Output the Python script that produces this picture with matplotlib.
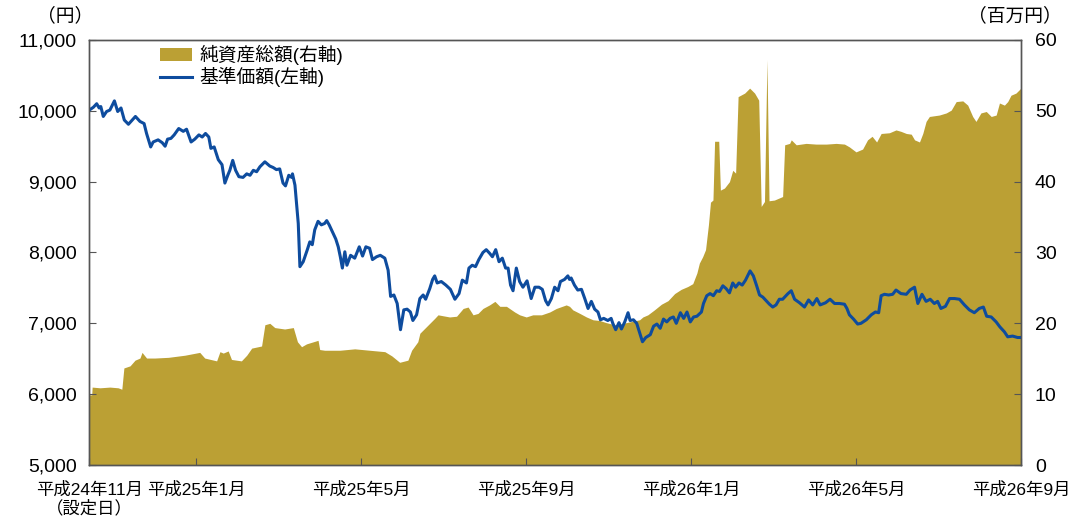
import matplotlib
matplotlib.use("Agg")
import matplotlib.pyplot as plt
from matplotlib.patches import Patch
from matplotlib.lines import Line2D

plt.rcParams['font.family'] = ['Liberation Sans', 'Noto Sans CJK JP', 'DejaVu Sans']

# 横軸: 設定日からの月数
tick_pos = [0, 2.6, 6.6, 10.6, 14.6, 18.6, 22.6]
tick_labels = ["平成24年11月\n（設定日）", "平成25年1月", "平成25年5月", "平成25年9月",
               "平成26年1月", "平成26年5月", "平成26年9月"]

# 基準価額（左軸, 円）
nav_t = [0.00, 0.10, 0.18, 0.24, 0.28, 0.34, 0.42, 0.50, 0.61, 0.69, 0.77, 0.85, 0.95, 1.12, 1.23,
         1.33, 1.39, 1.49, 1.55, 1.67, 1.77, 1.84, 1.90, 1.98, 2.06, 2.17, 2.28, 2.36, 2.47, 2.56,
         2.66, 2.74, 2.82, 2.90, 2.95, 3.03, 3.13, 3.22, 3.29, 3.36, 3.41, 3.48, 3.55, 3.63, 3.73,
         3.82, 3.90, 3.98, 4.06, 4.14, 4.26, 4.38, 4.46, 4.54, 4.62, 4.70, 4.76, 4.84, 4.91, 4.93,
         4.99, 5.07, 5.11, 5.19, 5.29, 5.35, 5.41, 5.47, 5.55, 5.63, 5.71, 5.76, 5.82, 5.90, 5.98,
         6.04, 6.09, 6.14, 6.20, 6.25, 6.34, 6.44, 6.55, 6.63, 6.71, 6.80, 6.87, 6.97, 7.06, 7.17,
         7.25, 7.31, 7.39, 7.47, 7.55, 7.63, 7.71, 7.79, 7.85, 7.94, 8.02, 8.10, 8.16, 8.26, 8.33,
         8.38, 8.44, 8.54, 8.65, 8.76, 8.87, 8.97, 9.05, 9.15, 9.21, 9.29, 9.37, 9.45, 9.55, 9.63,
         9.71, 9.78, 9.86, 9.94, 10.02, 10.10, 10.16, 10.22, 10.28, 10.36, 10.44, 10.52, 10.62, 10.72,
         10.81, 10.91, 10.99, 11.07, 11.13, 11.21, 11.29, 11.37, 11.43, 11.53, 11.61, 11.65, 11.69,
         11.77, 11.85, 11.94, 12.02, 12.10, 12.18, 12.26, 12.34, 12.40, 12.48, 12.58, 12.66, 12.70,
         12.77, 12.85, 12.91, 12.99, 13.07, 13.12, 13.20, 13.28, 13.35, 13.42, 13.50, 13.61, 13.69,
         13.77, 13.85, 13.93, 14.01, 14.09, 14.17, 14.24, 14.34, 14.42, 14.50, 14.58, 14.66, 14.74,
         14.85, 14.90, 14.98, 15.06, 15.14, 15.22, 15.29, 15.37, 15.45, 15.53, 15.61, 15.68, 15.76,
         15.84, 15.92, 16.03, 16.11, 16.19, 16.26, 16.34, 16.42, 16.50, 16.58, 16.66, 16.74, 16.82,
         16.95, 17.03, 17.11, 17.23, 17.35, 17.45, 17.55, 17.65, 17.73, 17.86, 17.97, 18.08, 18.20,
         18.32, 18.38, 18.44, 18.54, 18.64, 18.72, 18.85, 18.97, 19.07, 19.15, 19.21, 19.29, 19.39,
         19.49, 19.57, 19.69, 19.82, 19.91, 20.02, 20.10, 20.20, 20.30, 20.40, 20.50, 20.58, 20.66,
         20.77, 20.87, 20.99, 21.11, 21.23, 21.35, 21.47, 21.59, 21.69, 21.77, 21.88, 22.00, 22.09,
         22.20, 22.28, 22.40, 22.52, 22.60]
nav = [10010, 10050, 10100, 10040, 10060, 9920, 9990, 10010, 10140, 9990, 10040, 9870, 9810, 9920, 9850,
       9820, 9680, 9490, 9560, 9590, 9550, 9500, 9600, 9610, 9660, 9750, 9710, 9740, 9560, 9600,
       9660, 9630, 9680, 9630, 9470, 9490, 9310, 9240, 8980, 9090, 9160, 9300, 9160, 9070, 9060,
       9110, 9090, 9160, 9140, 9210, 9280, 9220, 9200, 9170, 9180, 8980, 8940, 9090, 9060, 9110,
       8950, 8410, 7800, 7870, 8040, 8150, 8110, 8320, 8440, 8390, 8410, 8450, 8390, 8290, 8190,
       8080, 7940, 7780, 8010, 7820, 7960, 7920, 8080, 7950, 8080, 8060, 7900, 7940, 7960, 7920,
       7750, 7380, 7400, 7280, 6910, 7190, 7200, 7160, 7040, 7120, 7350, 7400, 7340, 7490, 7620,
       7670, 7570, 7590, 7540, 7480, 7340, 7420, 7610, 7570, 7780, 7820, 7800, 7900, 8000, 8040,
       7990, 7940, 8040, 7870, 7920, 7780, 7780, 7540, 7460, 7780, 7590, 7510, 7600, 7350,
       7510, 7510, 7480, 7320, 7260, 7350, 7510, 7460, 7590, 7620, 7670, 7620, 7640,
       7540, 7470, 7480, 7350, 7210, 7310, 7200, 7160, 7050, 7070, 7040, 7070, 7000,
       6910, 7010, 6920, 7020, 7150, 7040, 7050, 7000, 6870, 6740, 6800, 6840, 6960,
       6990, 6930, 7060, 7020, 7070, 7090, 7000, 7150, 7070, 7160, 7020, 7090, 7100,
       7160, 7280, 7390, 7420, 7390, 7460, 7450, 7530, 7490, 7430, 7570, 7510, 7570,
       7540, 7610, 7740, 7670, 7530, 7400, 7370, 7320, 7270, 7230, 7260, 7340, 7340,
       7420, 7460, 7340, 7290, 7230, 7330, 7260, 7350, 7260, 7290, 7340, 7280, 7280,
       7270, 7210, 7120, 7060, 6990, 7000, 7050, 7120, 7160, 7150, 7390, 7410, 7400,
       7410, 7470, 7420, 7410, 7470, 7510, 7280, 7410, 7310, 7340, 7280, 7310, 7210,
       7240, 7350, 7350, 7340, 7260, 7190, 7150, 7210, 7230, 7100, 7090, 7020, 6950,
       6880, 6810, 6820, 6800, 6800]

# 純資産総額（右軸, 百万円）
aum_t = [0.00, 0.06, 0.07, 0.26, 0.50, 0.70, 0.79, 0.84, 0.99, 1.11, 1.23, 1.28, 1.39, 1.59, 1.92,
         2.32, 2.68, 2.80, 3.09, 3.17, 3.25, 3.37, 3.45, 3.69, 3.82, 3.94, 4.18, 4.26, 4.38, 4.50,
         4.74, 4.95, 5.05, 5.15, 5.27, 5.55, 5.59, 5.71, 6.08, 6.44, 6.80, 7.17, 7.34, 7.53, 7.73,
         7.82, 7.97, 8.02, 8.14, 8.38, 8.46, 8.74, 8.91, 9.07, 9.19, 9.31, 9.43, 9.55, 9.71, 9.84,
         9.96, 10.12, 10.32, 10.44, 10.60, 10.76, 10.97, 11.17, 11.33, 11.57, 11.65, 11.73, 11.90,
         12.06, 12.22, 12.38, 12.54, 12.74, 12.95, 13.11, 13.35, 13.43, 13.55, 13.71, 13.88, 14.04,
         14.20, 14.36, 14.52, 14.64, 14.74, 14.80, 14.88, 14.95, 15.02, 15.07, 15.13, 15.17, 15.27,
         15.31, 15.41, 15.53, 15.61, 15.68, 15.74, 15.90, 16.02, 16.14, 16.24, 16.30, 16.38, 16.44,
         16.49, 16.62, 16.74, 16.82, 16.87, 16.99, 17.03, 17.15, 17.39, 17.63, 17.88, 18.12, 18.32,
         18.44, 18.60, 18.76, 18.88, 18.99, 19.10, 19.21, 19.41, 19.57, 19.69, 19.82, 19.94, 20.02,
         20.14, 20.22, 20.30, 20.38, 20.62, 20.79, 20.91, 21.03, 21.19, 21.31, 21.43, 21.51, 21.63,
         21.76, 21.88, 22.00, 22.08, 22.20, 22.28, 22.36, 22.48, 22.60]
aum = [9.9, 9.9, 11.0, 10.9, 11.0, 10.9, 10.7, 13.7, 14.0, 14.8, 15.1, 15.9, 15.1, 15.1, 15.2,
       15.5, 15.9, 15.1, 14.7, 16.0, 15.8, 16.1, 14.9, 14.7, 15.5, 16.5, 16.8, 19.8, 20.0, 19.4,
       19.2, 19.4, 17.4, 16.7, 17.1, 17.6, 16.3, 16.2, 16.2, 16.4, 16.2, 16.0, 15.4, 14.5, 14.8,
       16.2, 17.4, 18.6, 19.3, 20.7, 21.2, 20.9, 21.0, 22.1, 22.3, 21.2, 21.4, 22.1, 22.6, 23.1,
       22.4, 22.4, 21.6, 21.2, 20.9, 21.2, 21.2, 21.6, 22.1, 22.6, 22.4, 21.9, 21.4,
       20.9, 20.5, 20.4, 20.1, 19.8, 20.0, 20.2, 20.5, 20.9, 21.2, 21.9, 22.7, 23.2,
       24.2, 24.8, 25.2, 25.6, 27.1, 28.5, 29.4, 30.4, 33.9, 37.1, 37.4, 45.7, 45.7,
       38.8, 39.1, 40.0, 41.6, 41.2, 52.0, 52.5, 53.2, 52.5, 51.5, 36.5, 37.2, 57.2,
       37.3, 37.4, 37.7, 37.9, 45.2, 45.4, 45.9, 45.2, 45.4, 45.3, 45.3, 45.4, 45.3,
       44.9, 44.2, 44.6, 45.9, 46.4, 45.6, 46.8, 46.9, 47.3, 47.1, 46.8, 46.7, 45.9,
       45.6, 46.8, 48.5, 49.2, 49.4, 49.7, 50.1, 51.3, 51.4, 50.8, 49.2, 48.5, 49.7,
       49.9, 49.2, 49.4, 51.1, 50.8, 51.3, 52.2, 52.5, 53.2]

gold = "#BBA034"
blue = "#0E4C9E"
spine_col = "#555555"

fig = plt.figure(figsize=(10.69, 5.30), dpi=100)
ax = fig.add_axes([0.0835, 0.1226, 0.8715, 0.802])
ax2 = ax.twinx()

# 純資産総額を右軸に、基準価額を左軸（前面）に
ax2.fill_between(aum_t, aum, 0, color=gold, linewidth=0)
ax.plot(nav_t, nav, color=blue, linewidth=2.2)
ax.set_zorder(ax2.get_zorder() + 1)
ax.patch.set_visible(False)

ax.set_xlim(0, 22.6)
ax.set_ylim(5000, 11000)
ax2.set_ylim(0, 60)
ax.set_yticks(range(5000, 11001, 1000))
ax.set_yticklabels([f"{v:,}" for v in range(5000, 11001, 1000)])
ax2.set_yticks(range(0, 61, 10))
ax.set_xticks(tick_pos)
ax.set_xticklabels(tick_labels, fontsize=12.5, linespacing=1.1)

ax.tick_params(axis="y", direction="in", length=5, pad=9, labelsize=14, color=spine_col)
ax.tick_params(axis="x", direction="in", length=5, pad=12, color=spine_col)
ax2.tick_params(axis="y", direction="in", length=5, pad=10, labelsize=14, color=spine_col)

for a in (ax, ax2):
    for s in a.spines.values():
        s.set_color(spine_col)
        s.set_linewidth(1.0)

fig.text(65 / 1069, 1 - 16 / 530, "（円）", ha="center", va="center", fontsize=13.5)
fig.text(1015 / 1069, 1 - 16 / 530, "（百万円）", ha="center", va="center", fontsize=13.5)

handles = [Patch(facecolor=gold, edgecolor="none"), Line2D([0], [0], color=blue, linewidth=2.2)]
fig.legend(handles, ["純資産総額(右軸)", "基準価額(左軸)"], loc="upper left",
           bbox_to_anchor=(160 / 1069, 1 - 45 / 530), frameon=False, fontsize=13.5,
           handlelength=1.7, handleheight=0.7, handletextpad=0.4, labelspacing=0.1,
           borderaxespad=0, borderpad=0)

fig.savefig("out.png", dpi=100)
